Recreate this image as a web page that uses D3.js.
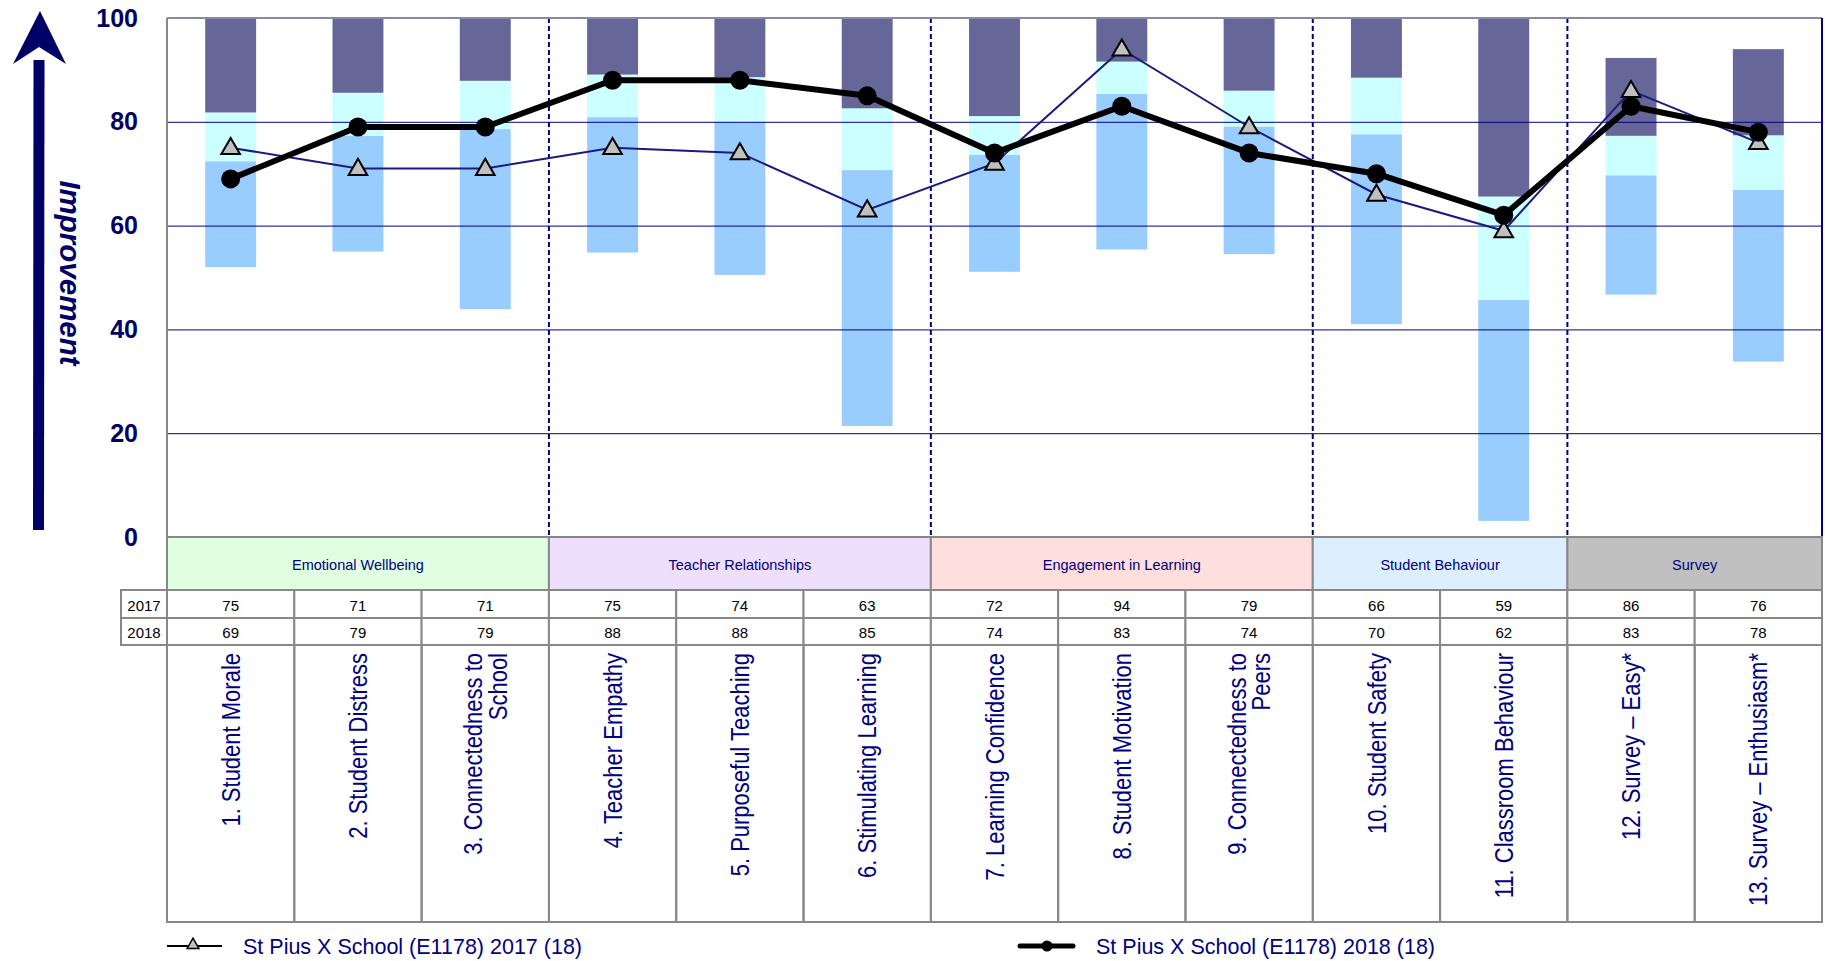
<!DOCTYPE html>
<html>
<head>
<meta charset="utf-8">
<script src="https://cdnjs.cloudflare.com/ajax/libs/d3/7.8.5/d3.min.js"></script>
<style>
  body { margin: 0; background: #fff; }
  svg { display: block; font-family: Arial, "Liberation Sans", sans-serif; }
</style>
</head>
<body>
<svg id="chart" width="1825" height="961"></svg>
<script>
"use strict";

// categories (\n = line break in the rotated label)
var categories = [
    "1. Student Morale",
    "2. Student Distress",
    "3. Connectedness to\nSchool",
    "4. Teacher Empathy",
    "5. Purposeful Teaching",
    "6. Stimulating Learning",
    "7. Learning Confidence",
    "8. Student Motivation",
    "9. Connectedness to\nPeers",
    "10. Student Safety",
    "11. Classroom Behaviour",
    "12. Survey \u2013 Easy*",
    "13. Survey \u2013 Enthusiasm*"
];

var groupNames = ["Emotional Wellbeing", "Teacher Relationships", "Engagement in Learning", "Student Behaviour", "Survey"];
var groupSizes = [3, 3, 3, 2, 2];

var years = ["2017", "2018"];
var values2017 = [75, 71, 71, 75, 74, 63, 72, 94, 79, 66, 59, 86, 76];
var values2018 = [69, 79, 79, 88, 88, 85, 74, 83, 74, 70, 62, 83, 78];

// background range bars: low, lower middle, upper middle, high
var rangeLow = [52.0, 55.0, 43.9, 54.8, 50.5, 21.4, 51.1, 55.4, 54.5, 41.0, 3.1, 46.7, 33.8];
var rangeMidLow = [72.4, 77.3, 78.6, 80.9, 80.0, 70.7, 73.6, 85.4, 79.1, 77.6, 45.7, 69.7, 66.9];
var rangeMidHigh = [81.8, 85.6, 87.9, 89.1, 88.6, 82.6, 81.1, 91.6, 86.0, 88.5, 65.6, 77.3, 77.4];
var rangeHigh = [100, 100, 100, 100, 100, 100, 100, 100, 100, 100, 100, 92.3, 94.0];

var yTicks = [0, 20, 40, 60, 80, 100];
var legendLabels = ["St Pius X School (E1178) 2017 (18)", "St Pius X School (E1178) 2018 (18)"];

var GroupColors = ["#e0ffe0", "#eedffc", "#ffdede", "#ddeeff", "#c0c0c0"];
var Navy = "#000080";
var GridGray = "#888888";

var plotLeft = 167, plotRight = 1822, plotTop = 18, plotBottom = 537;
var headerBottom = 590, row1Bottom = 618, row2Bottom = 645, tableBottom = 922;

var svg = d3.select("#chart");

var x = d3.scaleBand().domain(d3.range(categories.length)).range([plotLeft, plotRight]);
var y = d3.scaleLinear().domain([0, 100]).range([plotBottom, plotTop]);
var barW = x.bandwidth() * 0.4;

function cx(i) {
    return x(i) + x.bandwidth() / 2;
}

// stacked range bars
var segments = [
    {lo: rangeLow, hi: rangeMidLow, color: "#99ccff"},
    {lo: rangeMidLow, hi: rangeMidHigh, color: "#ccffff"},
    {lo: rangeMidHigh, hi: rangeHigh, color: "#666699"}
];
segments.forEach(function (seg) {
    svg.append("g").selectAll("rect")
        .data(categories)
        .enter()
        .append("rect")
        .attr("x", function (d, i) { return cx(i) - barW / 2; })
        .attr("width", barW)
        .attr("y", function (d, i) { return y(seg.hi[i]); })
        .attr("height", function (d, i) { return y(seg.lo[i]) - y(seg.hi[i]); })
        .attr("fill", seg.color);
});

// gridlines
var grid = svg.append("g")
    .attr("transform", "translate(" + plotLeft + ",0)")
    .call(d3.axisLeft(y).tickValues([20, 40, 60, 80]).tickSize(-(plotRight - plotLeft)).tickFormat(""));
grid.select(".domain").remove();
grid.selectAll("line").attr("stroke", Navy).attr("stroke-width", 1.3).attr("opacity", 0.8);

// y labels
var yAxis = svg.append("g")
    .attr("transform", "translate(138,0)")
    .call(d3.axisLeft(y).tickValues(yTicks).tickSize(0).tickPadding(0));
yAxis.select(".domain").remove();
yAxis.selectAll("text")
    .attr("font-size", 25)
    .attr("font-weight", "bold")
    .attr("font-family", "Arial, 'Liberation Sans', sans-serif")
    .attr("fill", "#000066");

// group separators
var bounds = [];
var acc = 0;
groupSizes.forEach(function (n) {
    bounds.push(acc);
    acc += n;
});
svg.append("g").selectAll("line")
    .data(bounds.slice(1))
    .enter()
    .append("line")
    .attr("x1", function (d) { return x(d); })
    .attr("x2", function (d) { return x(d); })
    .attr("y1", plotTop)
    .attr("y2", plotBottom)
    .attr("stroke", Navy)
    .attr("stroke-width", 2)
    .attr("stroke-dasharray", "5,3");

// plot frame
svg.append("line").attr("x1", plotLeft).attr("x2", plotRight).attr("y1", plotTop).attr("y2", plotTop)
    .attr("stroke", "#8888aa").attr("stroke-width", 2);
svg.append("line").attr("x1", plotRight).attr("x2", plotRight).attr("y1", plotTop).attr("y2", plotBottom)
    .attr("stroke", Navy).attr("stroke-width", 2);

// 2017 line with triangles
var line = d3.line()
    .x(function (d, i) { return cx(i); })
    .y(function (d) { return y(d); });

svg.append("path")
    .datum(values2017)
    .attr("d", line)
    .attr("fill", "none")
    .attr("stroke", "#1a1a80")
    .attr("stroke-width", 2);

var tri = d3.symbol().type(d3.symbolTriangle).size(150);
svg.append("g").selectAll("path")
    .data(values2017)
    .enter()
    .append("path")
    .attr("d", tri)
    .attr("transform", function (d, i) { return "translate(" + cx(i) + "," + (y(d) + 1) + ")"; })
    .attr("fill", "#c0c0c0")
    .attr("stroke", "#000")
    .attr("stroke-width", 2);

// 2018 line with dots
svg.append("path")
    .datum(values2018)
    .attr("d", line)
    .attr("fill", "none")
    .attr("stroke", "#000")
    .attr("stroke-width", 6)
    .attr("stroke-linejoin", "round");

svg.append("g").selectAll("circle")
    .data(values2018)
    .enter()
    .append("circle")
    .attr("cx", function (d, i) { return cx(i); })
    .attr("cy", function (d) { return y(d); })
    .attr("r", 9.5)
    .attr("fill", "#000");

// group header row
var table = svg.append("g");
table.selectAll("rect.group")
    .data(groupNames)
    .enter()
    .append("rect")
    .attr("class", "group")
    .attr("x", function (d, i) { return x(bounds[i]); })
    .attr("width", function (d, i) { return x.bandwidth() * groupSizes[i]; })
    .attr("y", plotBottom)
    .attr("height", headerBottom - plotBottom)
    .attr("fill", function (d, i) { return GroupColors[i]; })
    .attr("stroke", GridGray)
    .attr("stroke-width", 2);

table.selectAll("text.group")
    .data(groupNames)
    .enter()
    .append("text")
    .attr("class", "group")
    .attr("x", function (d, i) { return x(bounds[i]) + x.bandwidth() * groupSizes[i] / 2; })
    .attr("y", (plotBottom + headerBottom) / 2 + 1)
    .attr("text-anchor", "middle")
    .attr("dominant-baseline", "central")
    .attr("font-size", 14.5)
    .attr("fill", Navy)
    .text(function (d) { return d; });

// value rows
var rows = [values2017, values2018];
var rowTops = [headerBottom, row1Bottom];
var rowBottoms = [row1Bottom, row2Bottom];

rows.forEach(function (vals, r) {
    var g = table.append("g");
    g.append("rect")
        .attr("x", 121)
        .attr("width", plotLeft - 121)
        .attr("y", rowTops[r])
        .attr("height", rowBottoms[r] - rowTops[r])
        .attr("fill", "#fff")
        .attr("stroke", GridGray)
        .attr("stroke-width", 2);
    g.append("text")
        .attr("x", (121 + plotLeft) / 2)
        .attr("y", (rowTops[r] + rowBottoms[r]) / 2 + 1)
        .attr("text-anchor", "middle")
        .attr("dominant-baseline", "central")
        .attr("font-size", 15)
        .attr("fill", "#000")
        .text(years[r]);
    g.selectAll("rect.cell")
        .data(vals)
        .enter()
        .append("rect")
        .attr("class", "cell")
        .attr("x", function (d, i) { return x(i); })
        .attr("width", x.bandwidth())
        .attr("y", rowTops[r])
        .attr("height", rowBottoms[r] - rowTops[r])
        .attr("fill", "#fff")
        .attr("stroke", GridGray)
        .attr("stroke-width", 2);
    g.selectAll("text.cell")
        .data(vals)
        .enter()
        .append("text")
        .attr("class", "cell")
        .attr("x", function (d, i) { return cx(i); })
        .attr("y", (rowTops[r] + rowBottoms[r]) / 2 + 1)
        .attr("text-anchor", "middle")
        .attr("dominant-baseline", "central")
        .attr("font-size", 15)
        .attr("fill", "#000")
        .text(function (d) { return d; });
});

// category label cells
table.selectAll("rect.label")
    .data(categories)
    .enter()
    .append("rect")
    .attr("class", "label")
    .attr("x", function (d, i) { return x(i); })
    .attr("width", x.bandwidth())
    .attr("y", row2Bottom)
    .attr("height", tableBottom - row2Bottom)
    .attr("fill", "none")
    .attr("stroke", GridGray)
    .attr("stroke-width", 2);

var labelStretch = 1.14, labelLine = 21.5;
table.selectAll("text.label")
    .data(categories)
    .enter()
    .append("text")
    .attr("class", "label")
    .attr("transform", function (d, i) {
        var lines = d.split("\n").length;
        var shift = -(lines - 1) * labelLine * labelStretch / 2 + 8 * labelStretch;
        return "translate(" + (cx(i) + shift) + "," + (row2Bottom + 8) + ") rotate(-90) scale(1," + labelStretch + ")";
    })
    .attr("text-anchor", "end")
    .attr("font-size", 22)
    .attr("fill", Navy)
    .each(function (d) {
        var t = d3.select(this);
        d.split("\n").forEach(function (s, k) {
            t.append("tspan").attr("x", 0).attr("y", k * labelLine).text(s);
        });
    });

// left frame
svg.append("line").attr("x1", plotLeft).attr("x2", plotLeft).attr("y1", plotTop).attr("y2", tableBottom)
    .attr("stroke", GridGray).attr("stroke-width", 2);

// improvement arrow
var arrow = svg.append("g").attr("fill", "#000066");
arrow.append("path").attr("d", "M33,530 L44,530 L44.5,60 L33.5,60 Z");
arrow.append("path").attr("d", "M40,11 L66,64 L39,47 L13,64 Z");
svg.append("text")
    .attr("transform", "translate(70,273) rotate(90)")
    .attr("text-anchor", "middle")
    .attr("dominant-baseline", "central")
    .attr("font-size", 29.5)
    .attr("font-weight", "bold")
    .attr("font-style", "italic")
    .attr("fill", "#000066")
    .text("Improvement");

// legend
var legend = svg.append("g");
var legendX = [167, 1020];
var legendY = 946;
legend.append("line").attr("x1", legendX[0]).attr("x2", legendX[0] + 55).attr("y1", legendY).attr("y2", legendY)
    .attr("stroke", "#000").attr("stroke-width", 2);
legend.append("path")
    .attr("d", d3.symbol().type(d3.symbolTriangle).size(60))
    .attr("transform", "translate(" + (legendX[0] + 26) + "," + (legendY - 1) + ")")
    .attr("fill", "#c0c0c0").attr("stroke", "#000").attr("stroke-width", 1.5);
legend.append("line").attr("x1", legendX[1]).attr("x2", legendX[1] + 53).attr("y1", legendY).attr("y2", legendY)
    .attr("stroke", "#000").attr("stroke-width", 5).attr("stroke-linecap", "round");
legend.append("circle").attr("cx", legendX[1] + 27).attr("cy", legendY).attr("r", 5.5).attr("fill", "#000");

legend.selectAll("text")
    .data(legendLabels)
    .enter()
    .append("text")
    .attr("x", function (d, i) { return legendX[i] + 76; })
    .attr("y", legendY + 1)
    .attr("dominant-baseline", "central")
    .attr("font-size", 21.5)
    .attr("fill", Navy)
    .text(function (d) { return d; });
</script>
</body>
</html>
